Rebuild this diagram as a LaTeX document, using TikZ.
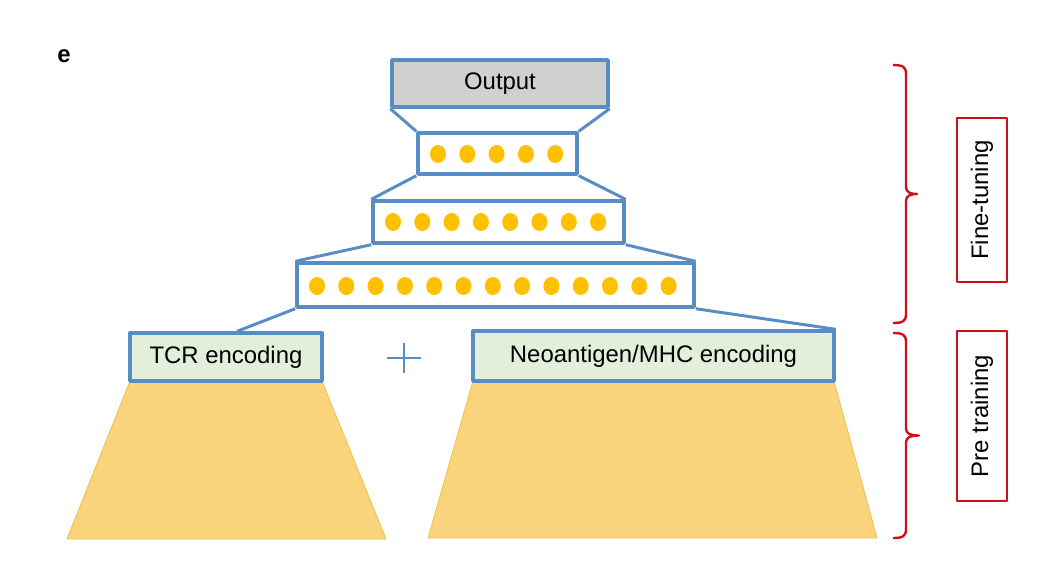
\documentclass[tikz,border=0pt]{standalone}
\usepackage{fontspec}
\setmainfont{Liberation Sans}
\definecolor{boxblue}{RGB}{88,140,196}
\definecolor{outgray}{RGB}{208,208,208}
\definecolor{encgreen}{RGB}{226,239,218}
\definecolor{dotgold}{RGB}{255,192,0}
\definecolor{netgold}{RGB}{250,212,122}
\definecolor{netedge}{RGB}{240,192,84}
\definecolor{phasered}{RGB}{204,16,28}
\begin{document}
\begin{tikzpicture}[x=0.025cm,y=-0.025cm,line join=round,
    txt/.style={font=\fontsize{17}{20}\selectfont},
    layer/.style={draw=boxblue, line width=2.4pt, fill=white, inner sep=0pt},
    enc/.style={layer, txt, fill=encgreen},
    link/.style={draw=boxblue, line width=2.1pt},
    unit/.style={fill=dotgold, draw=none},
    net/.style={fill=netgold, draw=netedge, line width=0.6pt},
    phase/.style={draw=phasered, line width=1.5pt, txt, inner sep=0pt, minimum height=1.25cm},
    bracket/.style={draw=phasered, line width=1.7pt}]
  \useasboundingbox (0,0) rectangle (1046,561);
  \node[font=\fontsize{17}{20}\selectfont\bfseries] (tag) at (64,56) {e};

  % pre-trained encoders
  \path[net] (130,381) -- (322,381) -- (386,539) -- (67,539) -- cycle;
  \path[net] (473,381) -- (834,381) -- (877,538) -- (428,538) -- cycle;
  \node[enc, minimum width=4.8cm, minimum height=1.2cm] (tcr) at (226,357) {TCR encoding};
  \node[enc, minimum width=9.025cm, minimum height=1.25cm] (neo) at (653.5,356) {Neoantigen/MHC encoding};
  \node[inner sep=0pt, minimum width=0.85cm, minimum height=0.75cm] (plus) at (404,358) {};
  \draw[boxblue, line width=1.5pt] (plus.west) -- (plus.east) (plus.north) -- (plus.south);

  % fine-tuned head
  \node[layer, txt, fill=outgray, minimum width=5.4cm, minimum height=1.175cm] (out) at (500,83.5) {Output};
  \node[layer, minimum width=3.975cm, minimum height=1.025cm] (l1) at (497.5,153.5) {};
  \node[layer, minimum width=6.275cm, minimum height=1.05cm] (l2) at (498.5,222) {};
  \node[layer, minimum width=9.925cm, minimum height=1.1cm] (l3) at (495.5,285) {};
  \foreach \n/\y/\x in {5/154/438, 8/222/393, 13/286/317}
    \foreach \i in {1,...,\n}
      \fill[unit] (\x+29.3*\i-29.3,\y) ellipse [x radius=0.2cm, y radius=0.225cm];

  \draw[link] (out.south west) -- (l1.north west) (out.south east) -- (l1.north east);
  \draw[link] (l1.south west) -- (l2.north west) (l1.south east) -- (l2.north east);
  \draw[link] (l2.south west) -- (l3.north west) (l2.south east) -- (l3.north east);
  \draw[link] (l3.south west) -- ([xshift=0.275cm]tcr.north);
  \draw[link] (l3.south east) -- (neo.north east);

  % stages
  \foreach \top/\bot/\tip in {65/323/917, 333/538/919} {
    \pgfmathsetmacro\mid{(\top+\bot)/2}
    \draw[bracket] (893,\top) .. controls (903,\top) and (906,\top+2) .. (906,\top+9)
      -- (906,\mid-7) .. controls (906,\mid-2) and (910,\mid) .. (\tip,\mid)
      .. controls (910,\mid) and (906,\mid+2) .. (906,\mid+7)
      -- (906,\bot-9) .. controls (906,\bot-2) and (903,\bot) .. (893,\bot);
  }
  \node[phase, rotate=90, minimum width=4.1cm] (ft) at (982,200) {Fine-tuning};
  \node[phase, rotate=90, minimum width=4.25cm] (pt) at (982,416) {Pre training};
\end{tikzpicture}
\end{document}
